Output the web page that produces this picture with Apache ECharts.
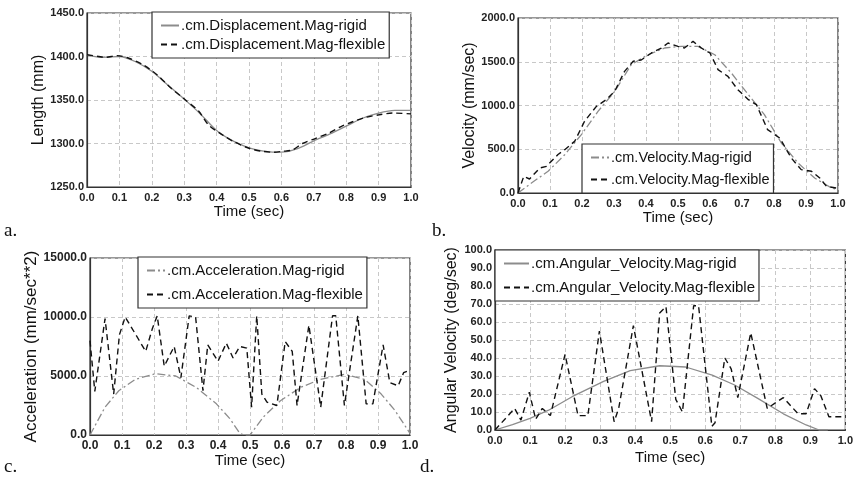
<!DOCTYPE html>
<html>
<head>
<meta charset="utf-8">
<title>Rigid vs flexible</title>
<script src="https://cdn.jsdelivr.net/npm/echarts@6/dist/echarts.min.js"></script>
<style>
html, body { margin: 0; padding: 0; background: #fff; }
#chart { width: 856px; height: 479px; }
</style>
</head>
<body>
<div id="chart"></div>
<script>
// a. displacement (mm)
const dispRigidT = [0, 0.05, 0.1, 0.15, 0.2, 0.25, 0.3, 0.35, 0.4, 0.45, 0.5, 0.55, 0.6, 0.65, 0.7, 0.75, 0.8, 0.85, 0.9, 0.95, 1.0]
const dispRigid = [1402, 1399, 1400, 1394, 1383, 1367, 1351, 1334, 1315, 1303, 1295, 1291, 1290, 1294, 1303, 1311, 1320, 1329, 1335, 1338, 1338]
const dispFlexT = [0, 0.036, 0.057, 0.093, 0.129, 0.175, 0.216, 0.258, 0.304, 0.345, 0.376, 0.418, 0.454, 0.5, 0.541, 0.577, 0.603, 0.634, 0.665, 0.706, 0.747, 0.784, 0.82, 0.86, 0.902, 0.943, 1.0]
const dispFlex = [1402, 1400, 1399, 1401, 1398, 1390, 1379, 1364, 1350, 1337, 1321, 1310, 1302, 1294.5, 1291, 1290, 1291, 1292.6, 1300, 1306, 1312, 1319.5, 1325, 1330, 1333, 1335, 1334]

// b. velocity (mm/sec)
const velRigidT = [0, 0.042, 0.094, 0.146, 0.198, 0.25, 0.302, 0.354, 0.406, 0.458, 0.51, 0.5625, 0.615, 0.667, 0.72, 0.77, 0.823, 0.875, 0.927, 0.98, 1.0]
const velRigid = [0, 114, 248, 438, 667, 933, 1160, 1467, 1580, 1657, 1676, 1676, 1580, 1370, 1124, 895, 571, 343, 171, 57, 38]
const velFlexT = [0, 0.018, 0.036, 0.068, 0.089, 0.125, 0.146, 0.177, 0.208, 0.245, 0.276, 0.302, 0.333, 0.36, 0.385, 0.417, 0.448, 0.469, 0.5, 0.52, 0.547, 0.573, 0.6, 0.625, 0.656, 0.687, 0.72, 0.745, 0.78, 0.818, 0.854, 0.885, 0.917, 0.943, 0.964, 0.995]
const velFlex = [0, 190, 160, 285, 305, 440, 495, 590, 820, 990, 1067, 1160, 1390, 1505, 1520, 1600, 1657, 1714, 1676, 1657, 1733, 1657, 1600, 1410, 1333, 1180, 1067, 1010, 724, 628, 400, 267, 248, 171, 76, 57]

// c. acceleration (mm/sec**2)
const accRigidT = [0, 0.047, 0.09, 0.142, 0.205, 0.268, 0.332, 0.395, 0.437, 0.468, 0.48, 0.5, 0.542, 0.595, 0.658, 0.72, 0.795, 0.858, 0.91, 0.953, 1.0]
const accRigid = [0, 2360, 3750, 4720, 5200, 5000, 4030, 2640, 1390, 140, 0, 0, 1530, 2900, 4030, 4720, 5140, 4720, 3470, 2080, 140]
const accFlexT = [0, 0.015, 0.047, 0.074, 0.092, 0.11, 0.153, 0.174, 0.195, 0.21, 0.232, 0.263, 0.284, 0.31, 0.33, 0.353, 0.368, 0.4, 0.426, 0.447, 0.468, 0.49, 0.505, 0.521, 0.537, 0.553, 0.584, 0.61, 0.632, 0.647, 0.684, 0.721, 0.758, 0.768, 0.795, 0.837, 0.863, 0.884, 0.916, 0.937, 0.963, 0.98, 1.0]
const accFlex = [8000, 3700, 9860, 3470, 8500, 10000, 8050, 7080, 9030, 10100, 5830, 7500, 4860, 10100, 10000, 3750, 7640, 6250, 7780, 6530, 7500, 7360, 2360, 10100, 3470, 2780, 2500, 7920, 7080, 2500, 9300, 2360, 10100, 10100, 2500, 10100, 2640, 2640, 7640, 4440, 4170, 5280, 5500]

// d. angular velocity (deg/sec)
const angRigidT = [0, 0.05, 0.1, 0.153, 0.22, 0.31, 0.386, 0.47, 0.544, 0.62, 0.684, 0.75, 0.823, 0.888, 0.925, 0.95]
const angRigid = [0, 3, 6.5, 11, 18.5, 27, 33, 35.7, 35, 30.5, 25, 17.6, 9, 2.8, 0, 0]
const angFlexT = [0, 0.056, 0.074, 0.098, 0.116, 0.135, 0.158, 0.2, 0.237, 0.265, 0.298, 0.34, 0.353, 0.395, 0.447, 0.47, 0.488, 0.516, 0.535, 0.567, 0.581, 0.619, 0.628, 0.656, 0.674, 0.693, 0.73, 0.777, 0.823, 0.865, 0.888, 0.912, 0.93, 0.953, 1.0]
const angFlex = [0, 12, 5.5, 21, 6, 12, 8, 42, 8, 8, 55, 4.6, 12, 58, 4.6, 65, 68.5, 17, 10, 69, 69, 2, 4, 40, 34, 18, 54, 12, 18, 9, 9, 23, 19, 7.4, 7.4]

const FONT = '"Liberation Sans", Arial, sans-serif'
const RIGID_COLOR = '#8c8c8c'
const FLEX_COLOR = '#111'

const pairs = (t, v) => t.map((x, i) => [x, v[i]])

const panels = [
  {
    grid: { left: 87, top: 13, width: 324, height: 174 },
    y: { min: 1250, max: 1450, interval: 50, name: 'Length (mm)', gap: 40, size: 16 },
    xGap: 17, tickSize: 11,
    legend: { left: 152, top: 12, iconW: 18, font: 15, gap: 4 },
    rigid: { name: '.cm.Displacement.Mag-rigid', data: pairs(dispRigidT, dispRigid), type: 'solid', smooth: 0.3 },
    flex: { name: '.cm.Displacement.Mag-flexible', data: pairs(dispFlexT, dispFlex), smooth: 0.3 }
  },
  {
    grid: { left: 518, top: 18, width: 320, height: 175 },
    y: { min: 0, max: 2000, interval: 500, name: 'Velocity (mm/sec)', gap: 38, size: 16 },
    xGap: 14, tickSize: 11,
    legend: { left: 582, top: 144, iconW: 18, font: 14.5, gap: 7 },
    rigid: { name: '.cm.Velocity.Mag-rigid', data: pairs(velRigidT, velRigid), type: [8, 3, 2, 3] },
    flex: { name: '.cm.Velocity.Mag-flexible', data: pairs(velFlexT, velFlex) }
  },
  {
    grid: { left: 90, top: 258, width: 320, height: 177 },
    y: { min: 0, max: 15000, interval: 5000, name: 'Acceleration (mm/sec**2)', gap: 46, size: 17 },
    xGap: 11, tickSize: 12,
    legend: { left: 138, top: 257, iconW: 18, font: 15, gap: 9 },
    rigid: { name: '.cm.Acceleration.Mag-rigid', data: pairs(accRigidT, accRigid), type: [8, 3, 2, 3] },
    flex: { name: '.cm.Acceleration.Mag-flexible', data: pairs(accFlexT, accFlex) }
  },
  {
    grid: { left: 495, top: 250, width: 358, height: 180 },
    y: { min: 0, max: 100, interval: 10, name: 'Angular Velocity (deg/sec)', gap: 35, size: 16 },
    xGap: 20, tickSize: 11,
    legend: { left: 495, top: 250, iconW: 25, font: 15, gap: 9 },
    rigid: { name: '.cm.Angular_Velocity.Mag-rigid', data: pairs(angRigidT, angRigid), type: 'solid' },
    flex: { name: '.cm.Angular_Velocity.Mag-flexible', data: pairs(angFlexT, angFlex) }
  }
]

const gridLine = { show: true, lineStyle: { color: '#c8c8c8', type: [4, 3], width: 1 } }
const tickLabel = size => ({ fontFamily: FONT, fontSize: size, fontWeight: 'bold', color: '#222', formatter: v => v.toFixed(1) })

const chart = echarts.init(document.getElementById('chart'), null, { renderer: 'canvas' })

const option = {
  backgroundColor: '#fff',
  animation: false,
  grid: panels.map(p => ({ ...p.grid, show: true, borderColor: '#333', borderWidth: 1.2, backgroundColor: 'transparent' })),
  xAxis: panels.map((p, i) => ({
    type: 'value',
    gridIndex: i,
    min: 0,
    max: 1,
    interval: 0.1,
    name: 'Time (sec)',
    nameLocation: 'middle',
    nameGap: p.xGap,
    nameTextStyle: { fontFamily: FONT, fontSize: 15, color: '#111' },
    axisLine: { show: true, lineStyle: { color: '#333', width: 1.2 } },
    axisTick: { show: false },
    axisLabel: { ...tickLabel(p.tickSize), margin: 5 },
    splitLine: gridLine
  })),
  yAxis: panels.map((p, i) => ({
    type: 'value',
    gridIndex: i,
    min: p.y.min,
    max: p.y.max,
    interval: p.y.interval,
    name: p.y.name,
    nameLocation: 'middle',
    nameRotate: 90,
    nameGap: p.y.gap,
    nameTextStyle: { fontFamily: FONT, fontSize: p.y.size, color: '#111' },
    axisLine: { show: true, lineStyle: { color: '#333', width: 1.2 } },
    axisTick: { show: false },
    axisLabel: { ...tickLabel(p.tickSize), margin: 3 },
    splitLine: gridLine
  })),
  legend: panels.map(p => ({
    left: p.legend.left,
    top: p.legend.top,
    orient: 'vertical',
    data: [p.rigid.name, p.flex.name],
    backgroundColor: '#fff',
    borderColor: '#333',
    borderWidth: 1.2,
    borderRadius: 0,
    padding: [6, 4, 6, 8],
    itemGap: p.legend.gap,
    itemWidth: p.legend.iconW,
    itemHeight: 10,
    selectedMode: false,
    itemStyle: { opacity: 0 },
    textStyle: { fontFamily: FONT, fontSize: p.legend.font, color: '#111', padding: [0, 0, 0, -3] }
  })),
  series: panels.flatMap((p, i) => [
    {
      name: p.rigid.name,
      type: 'line',
      xAxisIndex: i,
      yAxisIndex: i,
      data: p.rigid.data,
      smooth: p.rigid.smooth || false,
      showSymbol: false,
      symbol: 'none',
      lineStyle: { color: RIGID_COLOR, width: 1.3, type: p.rigid.type },
      itemStyle: { color: RIGID_COLOR }
    },
    {
      name: p.flex.name,
      type: 'line',
      xAxisIndex: i,
      yAxisIndex: i,
      data: p.flex.data,
      smooth: p.flex.smooth || false,
      showSymbol: false,
      symbol: 'none',
      lineStyle: { color: FLEX_COLOR, width: 1.4, type: [6, 4] },
      itemStyle: { color: FLEX_COLOR }
    }
  ]),
  graphic: [
    { type: 'text', left: 4, top: 222, style: { text: 'a.', font: '19px "Liberation Serif", serif', fill: '#111' } },
    { type: 'text', left: 432, top: 222, style: { text: 'b.', font: '19px "Liberation Serif", serif', fill: '#111' } },
    { type: 'text', left: 4, top: 458, style: { text: 'c.', font: '19px "Liberation Serif", serif', fill: '#111' } },
    { type: 'text', left: 420, top: 458, style: { text: 'd.', font: '19px "Liberation Serif", serif', fill: '#111' } }
  ]
}

chart.setOption(option)
</script>
</body>
</html>
